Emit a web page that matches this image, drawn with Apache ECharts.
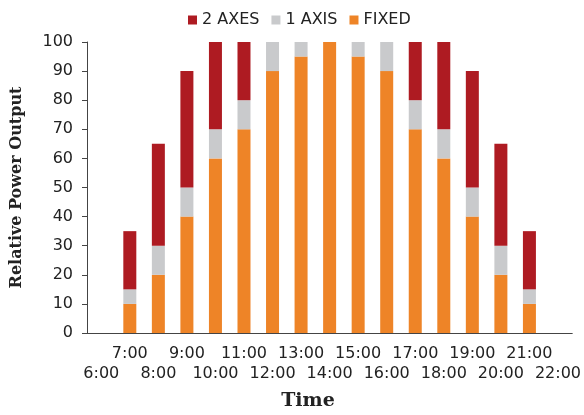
<!DOCTYPE html>
<html>
<head>
<meta charset="utf-8">
<script src="https://cdn.jsdelivr.net/npm/echarts@6/dist/echarts.min.js"></script>
<style>html,body{margin:0;padding:0;background:#fff}#c{width:584px;height:415px}</style>
</head>
<body>
<div id="c"></div>
<script>
var categories = ['6:00','7:00','8:00','9:00','10:00','11:00','12:00','13:00','14:00','15:00','16:00','17:00','18:00','19:00','20:00','21:00','22:00'];
// stacked segment values
var fixedVals = [null,10,20,40,60,70,90,95,100,95,90,70,60,40,20,10,null];
var oneAxisVals = [null,5,10,10,10,10,10,5,0,5,10,10,10,10,10,5,null];
var twoAxesVals = [null,20,35,40,30,20,0,0,0,0,0,20,30,40,35,20,null];
var yTicks = [0,10,20,30,40,50,60,70,80,90,100];

var chart = echarts.init(document.getElementById('c'));
var sans = 'DejaVu Sans, Arial, sans-serif';
var serif = 'DejaVu Serif, Times New Roman, serif';
chart.setOption({
  animation: false,
  grid: {left: 87, right: 11, top: 42, bottom: 82},
  legend: {
    data: ['2 AXES','1 AXIS','FIXED'],
    top: 7, left: 183,
    itemWidth: 9, itemHeight: 9, itemGap: 12,
    icon: 'rect',
    textStyle: {fontFamily: sans, fontSize: 16, color: '#222'}
  },
  xAxis: {
    type: 'category',
    data: categories,
    axisLine: {lineStyle: {color: '#444', width: 1}},
    axisTick: {alignWithLabel: true, length: 5, lineStyle: {color: '#444'}},
    axisLabel: {
      interval: 0, margin: 11, fontFamily: sans, fontSize: 16, color: '#222', lineHeight: 20,
      formatter: function (v, i) { return i % 2 === 0 ? '\n' + v : v; }
    }
  },
  yAxis: {
    type: 'value', min: yTicks[0], max: yTicks[yTicks.length-1], interval: 10,
    name: 'Relative Power Output', nameLocation: 'middle', nameRotate: 90, nameGap: 62,
    nameTextStyle: {fontFamily: serif, fontWeight: 'bold', fontSize: 16, color: '#222'},
    axisLine: {show: true, lineStyle: {color: '#444', width: 1}},
    axisTick: {show: true, length: 5, lineStyle: {color: '#444'}},
    splitLine: {show: false},
    axisLabel: {margin: 14, fontFamily: sans, fontSize: 16, color: '#222'}
  },
  graphic: [{
    type: 'text', x: 308, y: 401,
    style: {text: 'Time', fontFamily: serif, fontWeight: 'bold', fontSize: 19, fill: '#222', align: 'center', verticalAlign: 'middle', textAlign: 'center', textVerticalAlign: 'middle'}
  }],
  series: [
    {name: 'FIXED', type: 'bar', stack: 's', data: fixedVals, barWidth: 13, itemStyle: {color: '#EE8427'}},
    {name: '1 AXIS', type: 'bar', stack: 's', data: oneAxisVals, barWidth: 13, itemStyle: {color: '#C9CACC'}},
    {name: '2 AXES', type: 'bar', stack: 's', data: twoAxesVals, barWidth: 13, itemStyle: {color: '#AE1B22'}}
  ]
});
</script>
</body>
</html>
